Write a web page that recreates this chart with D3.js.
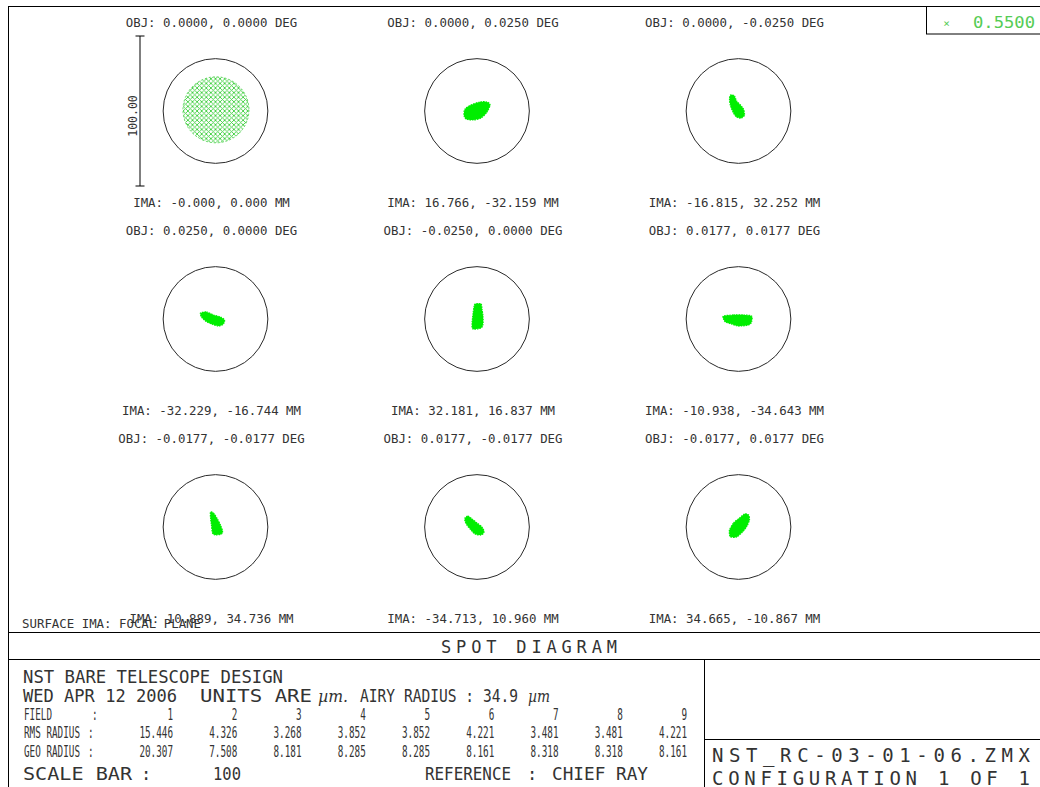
<!DOCTYPE html>
<html>
<head>
<meta charset="utf-8">
<script src="https://cdn.jsdelivr.net/npm/d3@7"></script>
<style>
  body { margin: 0; background: #fff; }
  svg { display: block; }
  text { font-family: "DejaVu Sans Mono", monospace; fill: #333; }
</style>
</head>
<body>
<div id="chart"></div>
<script>
// ---- values ----
const fieldNumbers = [1, 2, 3, 4, 5, 6, 7, 8, 9];
const objFields = [
    "0.0000, 0.0000", "0.0000, 0.0250", "0.0000, -0.0250",
    "0.0250, 0.0000", "-0.0250, 0.0000", "0.0177, 0.0177",
    "-0.0177, -0.0177", "0.0177, -0.0177", "-0.0177, 0.0177"
];
const imaCoords = [
    "-0.000, 0.000", "16.766, -32.159", "-16.815, 32.252",
    "-32.229, -16.744", "32.181, 16.837", "-10.938, -34.643",
    "10.889, 34.736", "-34.713, 10.960", "34.665, -10.867"
];
const rmsRadius = [15.446, 4.326, 3.268, 3.852, 3.852, 4.221, 3.481, 3.481, 4.221];
const geoRadius = [20.307, 7.508, 8.181, 8.285, 8.285, 8.161, 8.318, 8.318, 8.161];
const airyRadius = 34.9;   // µm
const scaleBarSize = 100;  // µm
const wavelengths = ["0.5500"];

// field 1 is a round hatched ray cloud: centre and radius in µm
const spotDisc = { x: 0.3, y: 0.8, r: 22 };
// fields 2..9: outline of each ray cloud, [x, y] in µm from the chief ray (y up)
const spotOutlines = [
    null,
    [[-8, 1.3], [-4, 4], [2, 6], [6.7, 6], [8.7, 4], [6.7, -0.7], [2.7, -4.7], [-2.7, -6], [-7.3, -5.3], [-8.7, -2.7]],
    [[-5.3, 10.7], [-2.7, 10], [-1.3, 6.7], [1.3, 4], [3.3, 1.3], [4, -2.7], [2, -4.7], [-1.3, -4], [-3.3, -1.3], [-5.3, 3.3], [-6, 8]],
    [[-10, 4], [-6, 4.7], [-1.3, 2.7], [3.3, 1.3], [6, -0.7], [5.3, -3.3], [2, -4.7], [-2.7, -3.3], [-6.7, -1.3], [-9.3, 1.3]],
    [[-1.3, 10], [2.7, 10], [3.3, 6.7], [4, 2], [4, -3.3], [2.7, -6], [-2.7, -6.7], [-3.3, -3.3], [-2.7, 3.3], [-2, 8]],
    [[-10, 2], [-3.3, 2.7], [3.3, 2.7], [8.7, 2], [8.7, -2], [6.7, -4], [0, -4.7], [-4.7, -3.3], [-8.7, -2], [-10, 0]],
    [[-3.3, 10], [-1.3, 9.3], [1.3, 5.3], [3.3, 1.3], [4.7, -2.7], [4, -4.7], [0, -5.3], [-2, -4], [-2.7, 1.3], [-3.3, 6]],
    [[-8, 6], [-6, 7.3], [-3.3, 5.3], [0, 2.7], [3.3, 0], [4.7, -3.3], [2.7, -5.3], [-1.3, -4.7], [-4, -2], [-6.7, 1.3], [-8, 4]],
    [[-6, -2], [-3.3, 2.7], [0.7, 6], [4, 8.7], [6.7, 8], [7.3, 4.7], [5.3, 0], [2, -4], [-1.3, -6.7], [-5.3, -6.7], [-6, -4.7]]
];

const width = 1040, height = 787;
const spotGreen = "#00ee00";
const legendGreen = "#55cc55";

const svg = d3.select("#chart").append("svg")
    .attr("width", width)
    .attr("height", height);

// ---- scales ----
const colX = d3.scaleLinear().domain([0, 2]).range([215.5, 738.5]);
const rowY = d3.scaleLinear().domain([0, 2]).range([111, 527]);
// µm -> px inside a spot cell (scale bar of 100 µm is 150 px tall)
const umX = d3.scaleLinear().domain([-scaleBarSize / 2, scaleBarSize / 2]).range([-75, 75]);
const umY = d3.scaleLinear().domain([-scaleBarSize / 2, scaleBarSize / 2]).range([75, -75]);
// right edge of each field column in the table
const tableX = d3.scaleLinear().domain([1, 9]).range([173, 687]);

// hatch used for the big on-axis spot
const defs = svg.append("defs");
defs.append("pattern")
    .attr("id", "hatch")
    .attr("patternUnits", "userSpaceOnUse")
    .attr("width", 4.6).attr("height", 4.6)
    .append("path")
    .attr("d", "M0,0L4.6,4.6M4.6,0L0,4.6")
    .attr("stroke", "#3fcf3f")
    .attr("stroke-width", 0.9);

// ---- frame ----
svg.append("rect")
    .attr("x", 8.5).attr("y", 6.5)
    .attr("width", width).attr("height", height)
    .attr("fill", "none").attr("stroke", "#000");

const frameLines = [
    [8, 632.5, width, 632.5],
    [8, 659.5, width, 659.5],
    [704.5, 659.5, 704.5, height],
    [704.5, 739.5, width, 739.5]
];
svg.selectAll("line.frame")
    .data(frameLines)
    .enter().append("line")
    .attr("class", "frame")
    .attr("x1", d => d[0]).attr("y1", d => d[1])
    .attr("x2", d => d[2]).attr("y2", d => d[3])
    .attr("stroke", "#000");

// ---- spot cells ----
const cells = svg.selectAll("g.cell")
    .data(fieldNumbers)
    .enter().append("g")
    .attr("class", "cell")
    .attr("transform", d => `translate(${colX((d - 1) % 3)},${rowY(Math.floor((d - 1) / 3))})`);

cells.append("circle")
    .attr("r", umX(airyRadius) - umX(0))
    .attr("fill", "none")
    .attr("stroke", "#2a2a2a")
    .attr("stroke-width", 1);

cells.append("text")
    .attr("x", -4).attr("y", -84.5)
    .attr("text-anchor", "middle")
    .attr("font-size", 12.4)
    .text(d => `OBJ: ${objFields[d - 1]} DEG`);

cells.append("text")
    .attr("x", -4).attr("y", 95.5)
    .attr("text-anchor", "middle")
    .attr("font-size", 12.4)
    .text(d => `IMA: ${imaCoords[d - 1]} MM`);

const spotLine = d3.line()
    .x(d => umX(d[0]))
    .y(d => umY(d[1]))
    .curve(d3.curveCardinalClosed.tension(0.2));

cells.filter(d => spotOutlines[d - 1])
    .append("path")
    .attr("d", d => spotLine(spotOutlines[d - 1]))
    .attr("fill", spotGreen)
    .attr("stroke", spotGreen)
    .attr("stroke-width", 1.2)
    .attr("stroke-dasharray", "1.5 1");

// on-axis field: hatched disc
const first = cells.filter(d => d === 1);
first.append("circle")
    .attr("cx", umX(spotDisc.x))
    .attr("cy", umY(spotDisc.y))
    .attr("r", umX(spotDisc.r) - umX(0))
    .attr("fill", "url(#hatch)")
    .attr("stroke", "#5fd65f")
    .attr("stroke-width", 1)
    .attr("stroke-dasharray", "2 2");

// scale bar beside the first cell
const bar = svg.append("g")
    .attr("transform", `translate(140,${rowY(0)})`);
bar.append("line")
    .attr("y1", umY(scaleBarSize / 2)).attr("y2", umY(-scaleBarSize / 2))
    .attr("stroke", "#000");
bar.selectAll("line.tick")
    .data([scaleBarSize / 2, -scaleBarSize / 2])
    .enter().append("line")
    .attr("class", "tick")
    .attr("x1", -4.5).attr("x2", 4.5)
    .attr("y1", d => umY(d)).attr("y2", d => umY(d))
    .attr("stroke", "#000");
bar.append("text")
    .attr("transform", "translate(-3,5) rotate(-90)")
    .attr("text-anchor", "middle")
    .attr("font-size", 11.5)
    .text(d3.format(".2f")(scaleBarSize));

svg.append("text")
    .attr("x", 22).attr("y", 628)
    .attr("font-size", 12.4)
    .text("SURFACE IMA: FOCAL PLANE");

// ---- legend ----
svg.append("rect")
    .attr("x", 926.5).attr("y", 6.5)
    .attr("width", 120).attr("height", 27.5)
    .attr("fill", "none").attr("stroke", "#000");
svg.selectAll("g.legend")
    .data(wavelengths)
    .enter().append("g")
    .attr("class", "legend")
    .each(function (d) {
        const g = d3.select(this);
        g.append("text")
            .attr("x", 946.5).attr("y", 27)
            .attr("text-anchor", "middle")
            .attr("font-size", 11)
            .style("fill", legendGreen)
            .text("×");
        g.append("text")
            .attr("x", 973).attr("y", 28)
            .attr("font-size", 15)
            .attr("textLength", 62)
            .attr("lengthAdjust", "spacingAndGlyphs")
            .style("fill", legendGreen)
            .text(d);
    });

// ---- title block ----
function put(x, y, str, size, len, opts = {}) {
    const t = svg.append("text")
        .attr("x", x).attr("y", y)
        .attr("font-size", size)
        .attr("text-anchor", opts.anchor || "start")
        .text(str);
    if (len) t.attr("textLength", len).attr("lengthAdjust", opts.spacing ? "spacing" : "spacingAndGlyphs");
    if (opts.italic) t.attr("font-style", "italic").style("font-family", "'DejaVu Serif', serif");
    return t;
}

put(441, 653, "SPOT DIAGRAM", 17, 176, { spacing: true });

put(23, 683, "NST BARE TELESCOPE DESIGN", 18, 260);
put(23, 702, "WED APR 12 2006", 18, 154);
put(200, 702, "UNITS ARE", 18, 112);
put(318, 702, "µm.", 16, 30, { italic: true });
put(360, 702, "AIRY RADIUS : " + airyRadius.toFixed(1), 18, 158);
put(528, 702, "µm", 16, 22, { italic: true });

// narrow table rows
const narrowW = 5.6;
function narrow(x, y, str, anchor) {
    return put(x, y, str, 16, str.length * narrowW, { anchor: anchor });
}
narrow(24, 720, "FIELD");
narrow(92, 720, ":");
narrow(24, 738, "RMS RADIUS");
narrow(88, 738, ":");
narrow(24, 757, "GEO RADIUS");
narrow(88, 757, ":");

const fmt = d3.format(".3f");
fieldNumbers.forEach((f, i) => {
    narrow(tableX(f), 720, String(f), "end");
    narrow(tableX(f), 738, fmt(rmsRadius[i]), "end");
    narrow(tableX(f), 757, fmt(geoRadius[i]), "end");
});

put(23, 780, "SCALE BAR", 17, 109);
put(141, 780, ":", 17);
put(213, 780, String(scaleBarSize), 17, 28);
put(425, 780, "REFERENCE", 17, 86);
put(527, 780, ":", 17);
put(552, 780, "CHIEF RAY", 17, 96);

put(712, 762, "NST_RC-03-01-06.ZMX", 19, 318, { spacing: true });
put(712, 785, "CONFIGURATION 1 OF 1", 19, 318, { spacing: true });
</script>
</body>
</html>
